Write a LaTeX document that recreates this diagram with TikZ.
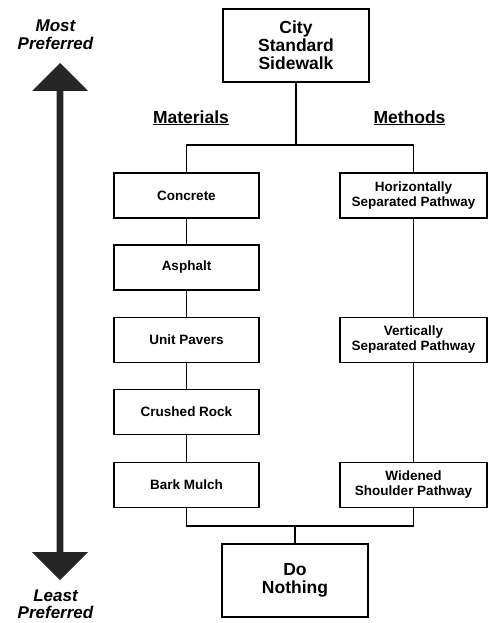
\documentclass[tikz,border=0pt]{standalone}
\usepackage{fontspec}
\setmainfont{Liberation Sans}
\begin{document}
\begin{tikzpicture}[x=1pt,y=-1pt,
  box/.style={draw, line width=1.3pt, inner sep=0pt, align=center,
    font=\fontsize{13.5}{15}\selectfont\bfseries},
  small/.style={box, minimum width=145pt, minimum height=45pt},
  wide/.style={box, minimum width=147pt, minimum height=45pt},
  big/.style={box, minimum width=146pt, minimum height=73pt,
    font=\fontsize{17.5}{18}\selectfont\bfseries},
  head/.style={anchor=base, font=\fontsize{17.5}{18}\selectfont\bfseries},
  pref/.style={align=center, font=\fontsize{17}{18}\selectfont\bfseries\itshape, inner sep=0pt},
  conn/.style={line width=1.3pt},
  arrowfill/.style={fill=black!85, draw=none}]
\useasboundingbox (0,0) rectangle (489,623);
\fill[white] (0,0) rectangle (489,623);

% arrow
\coordinate (atop) at (60,63);
\coordinate (abot) at (60,580);
\path[arrowfill] (atop) -- (88,91) -- (63.3,91) -- (63.3,552) -- (88,552) -- (abot)
  -- (32,552) -- (56.7,552) -- (56.7,91) -- (32,91) -- cycle;
\node[pref, anchor=base] (most) at (55.5,32) {Most};
\node[pref, anchor=base] (mostp) at (55.5,50) {Preferred};
\node[pref, anchor=base] (least) at (55.5,601) {Least};
\node[pref, anchor=base] (leastp) at (55.5,618) {Preferred};

% boxes
\node[big] (city) at (296,45.5) {City\\Standard\\Sidewalk};
\node[head] (mat) at (191,123) {\underline{Materials}};
\node[head] (meth) at (409.5,123) {\underline{Methods}};

\node[small] (concrete) at (186.5,195.5) {Concrete};
\node[small] (asphalt) at (186.5,267.5) {Asphalt};
\node[small] (pavers) at (186.5,340) {Unit Pavers};
\node[small] (rock) at (186.5,412) {Crushed Rock};
\node[small] (bark) at (186.5,485) {Bark Mulch};

\node[wide] (horiz) at (413.5,195.5) {Horizontally\\Separated Pathway};
\node[wide] (vert) at (413.5,340) {Vertically\\Separated Pathway};
\node[wide] (widened) at (413.5,485) {Widened\\Shoulder Pathway};

\node[big] (nothing) at (295,580.5) {Do\\Nothing};

% connectors
\coordinate (j1) at (296,145);
\coordinate (j2) at (295,526);
\draw[conn] (city) -- (j1);
\draw[conn] (concrete.north) |- (j1) -| (horiz.north);
\draw[conn] (concrete) -- (asphalt);
\draw[conn] (asphalt) -- (pavers);
\draw[conn] (pavers) -- (rock);
\draw[conn] (rock) -- (bark);
\draw[conn] (horiz) -- (vert);
\draw[conn] (vert) -- (widened);
\draw[conn] (bark.south) |- (j2) -| (widened.south);
\draw[conn] (j2) -- (nothing);
\end{tikzpicture}
\end{document}
